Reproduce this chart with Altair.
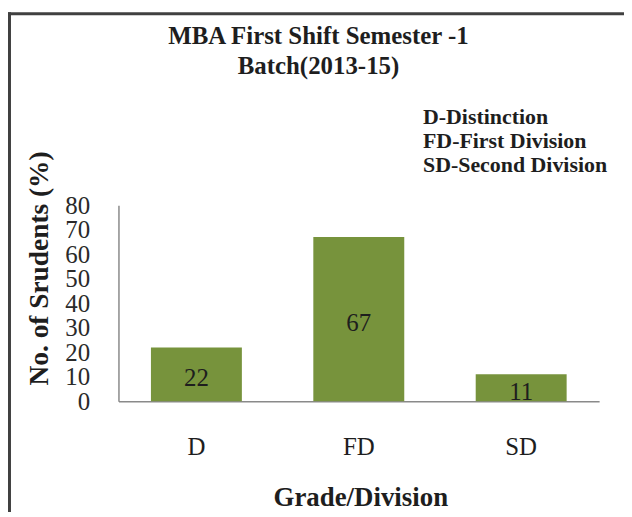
import altair as alt
import pandas as pd

CATEGORIES = ["D", "FD", "SD"]
VALUES = [22, 67, 11]
TITLE_LINES = ["MBA First Shift Semester  -1", "Batch(2013-15)"]
NOTE_LINES = ["D-Distinction", "FD-First Division", "SD-Second Division"]
Y_TICKS = [0, 10, 20, 30, 40, 50, 60, 70, 80]
X_TITLE = "Grade/Division"
Y_TITLE = "No. of Srudents (%)"

FONT = "Liberation Serif"
BAR_COLOR = "#77933C"
TEXT_COLOR = "#1e1e1e"

df = pd.DataFrame({"grade": CATEGORIES, "value": VALUES})

x_axis = alt.Axis(
    title=X_TITLE, labelAngle=0, ticks=False, tickSize=0, labelPadding=53,
    labelBaseline="alphabetic", labelFont=FONT, labelFontSize=25, labelColor=TEXT_COLOR,
    domainColor="#8a8a8a", domainWidth=1.5,
    titleFont=FONT, titleFontSize=27, titleFontWeight="bold", titleColor=TEXT_COLOR,
    titleBaseline="alphabetic", titleX=243, titleY=105, titleAlign="center",
)
y_axis = alt.Axis(
    title=Y_TITLE, values=Y_TICKS, grid=False, ticks=False, tickSize=0, labelPadding=29,
    labelOverlap=False, labelFlush=False, labelBound=False,
    labelFont=FONT, labelFontSize=25, labelColor="#2a2a2a",
    domainColor="#8a8a8a", domainWidth=1.5,
    titleFont=FONT, titleFontSize=27.5, titleFontWeight="bold", titleColor=TEXT_COLOR,
    titleAngle=270, titleBaseline="alphabetic", titleAlign="center", titleX=-71, titleY=63,
)
x_scale = alt.Scale(paddingInner=0.44, paddingOuter=0.2)
y_scale = alt.Scale(domain=[0, 80], nice=False)

bars = alt.Chart(df).mark_bar(color=BAR_COLOR).encode(
    x=alt.X("grade:N", sort=CATEGORIES, scale=x_scale, axis=x_axis),
    y=alt.Y("value:Q", scale=y_scale, axis=y_axis),
)

labels = alt.Chart(df).transform_calculate(mid="datum.value / 2").mark_text(
    font=FONT, fontSize=25, color=TEXT_COLOR, baseline="alphabetic", dy=12
).encode(
    x=alt.X("grade:N", sort=CATEGORIES, scale=x_scale, axis=x_axis),
    y=alt.Y("mid:Q", scale=y_scale, axis=y_axis),
    text=alt.Text("value:Q"),
)

one = alt.Chart(df).transform_filter("datum.grade == 'D'")

title = one.mark_text(
    font=FONT, fontSize=25, fontWeight="bold", color=TEXT_COLOR,
    align="center", baseline="alphabetic", lineHeight=30,
).encode(x=alt.value(201), y=alt.value(-162), text=alt.value(TITLE_LINES))

notes = one.mark_text(
    font=FONT, fontSize=22, fontWeight="bold", color=TEXT_COLOR,
    align="left", baseline="alphabetic", lineHeight=24.5,
).encode(x=alt.value(306), y=alt.value(-82), text=alt.value(NOTE_LINES))

border_left = one.mark_rule(color="#404040", strokeWidth=3).encode(
    x=alt.value(-109.5), y=alt.value(-194), y2=alt.value(320)
)
border_top = one.mark_rule(color="#404040", strokeWidth=3).encode(
    x=alt.value(-111), x2=alt.value(520), y=alt.value(-192.5)
)

chart = alt.layer(bars, labels, title, notes, border_left, border_top).properties(
    width=483,
    height=197,
    autosize=alt.AutoSizeParams(type="none"),
    padding={"left": 111, "top": 197, "right": 25, "bottom": 110},
    background="white",
).configure_view(stroke=None)

chart.save("out.html", embed_options={"renderer": "svg", "actions": False})
